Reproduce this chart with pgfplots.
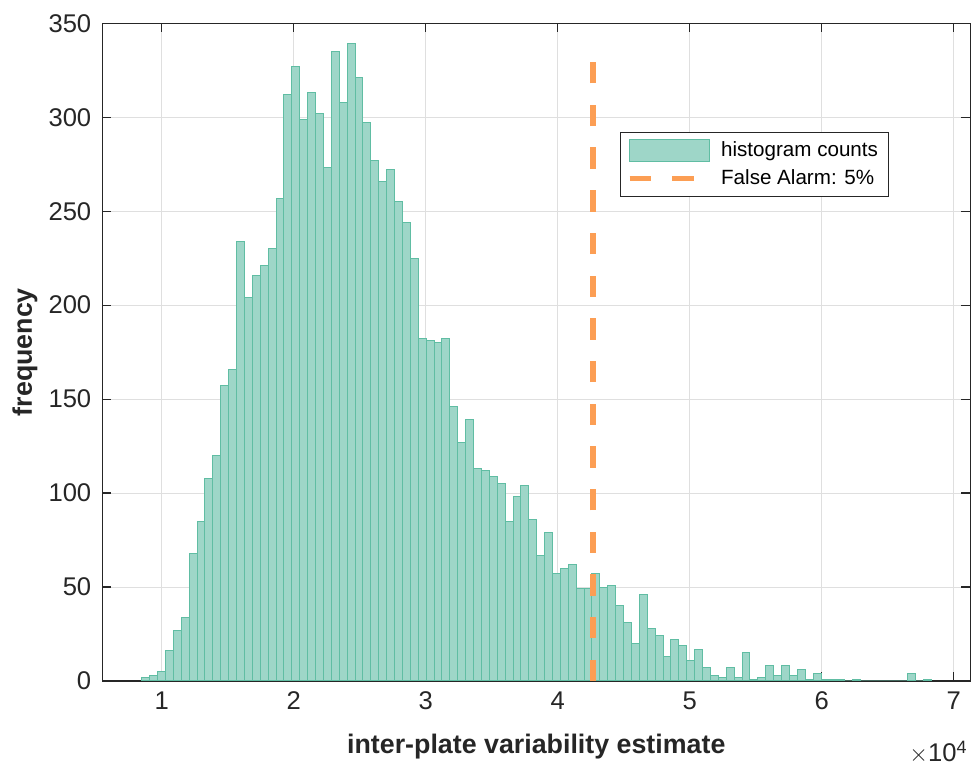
\documentclass[border=0pt]{standalone}
\usepackage{pgfplots}
\pgfplotsset{compat=1.18}
\usepackage{fontspec}
\setmainfont{Liberation Sans}
\definecolor{histfill}{RGB}{158,214,200}
\definecolor{histedge}{RGB}{96,189,163}
\definecolor{alarm}{RGB}{252,158,84}
\definecolor{axgray}{RGB}{38,38,38}
\definecolor{gridgray}{RGB}{223,223,223}
\begin{document}
\begin{tikzpicture}
\useasboundingbox (-51.15pt,-42.5pt) rectangle (434.35pt,340.5pt);
\begin{axis}[
  at={(0pt,0pt)}, anchor=south west,
  scale only axis, width=434pt, height=328.85pt,
  xmin=0.55, xmax=7.126, ymin=0, ymax=350,
  xtick={1,2,3,4,5,6,7}, ytick={0,50,100,150,200,250,300,350},
  grid=major, major grid style={gridgray, line width=0.5pt},
  axis line style={axgray, line width=0.6pt},
  tick style={axgray, line width=0.6pt},
  tick align=inside, major tick length=4.4pt,
  /pgf/number format/assume math mode=true,
  ticklabel style={font=\fontsize{12.8}{14}\selectfont, text=axgray},
  xticklabel style={yshift=-2pt},
  yticklabel style={xshift=-2pt},
  xlabel={inter-plate variability estimate},
  ylabel={frequency},
  xlabel style={at={(axis description cs:0.5,-0.1)}, anchor=center,
    font=\bfseries\fontsize{13.4}{15}\selectfont, text=axgray},
  ylabel style={at={(axis description cs:-0.089,0.5)}, anchor=center, rotate=0,
    font=\bfseries\fontsize{13.4}{15}\selectfont, text=axgray},
  legend style={at={(axis description cs:0.597,0.835)}, anchor=north west,
    draw=axgray, line width=0.5pt, fill=white,
    font=\fontsize{10.3}{12}\selectfont, inner xsep=3pt, inner ysep=2.5pt,
    row sep=1pt, column sep=3.5pt},
  legend cell align=left,
  clip=false,
]
\addplot[ybar interval, fill=histfill, draw=histedge, line width=0.5pt,
  legend image code/.code={\draw[fill=histfill, draw=histedge, line width=0.5pt] (0pt,-5.5pt) rectangle (40pt,5.5pt);}]
table[x=x, y=c] {
x c
0.8485 2
0.9084 3
0.9682 5
1.0281 16
1.0879 27
1.1478 34
1.2076 68
1.2675 85
1.3273 108
1.3872 120
1.4470 157
1.5069 166
1.5667 234
1.6266 204
1.6864 216
1.7463 221
1.8061 230
1.8660 257
1.9258 312
1.9857 327
2.0455 299
2.1054 313
2.1652 302
2.2251 273
2.2849 335
2.3448 308
2.4046 339
2.4645 321
2.5243 297
2.5842 277
2.6440 266
2.7039 272
2.7637 255
2.8236 244
2.8834 225
2.9433 182
3.0031 181
3.0630 180
3.1228 182
3.1827 146
3.2425 127
3.3024 139
3.3622 113
3.4221 112
3.4819 109
3.5418 105
3.6016 85
3.6615 98
3.7213 104
3.7812 86
3.8410 67
3.9009 79
3.9607 57
4.0206 60
4.0804 62
4.1403 49
4.2001 49
4.2600 57
4.3198 50
4.3797 51
4.4395 40
4.4994 31
4.5592 20
4.6191 46
4.6789 28
4.7388 24
4.7986 13
4.8585 22
4.9183 19
4.9782 11
5.0380 17
5.0979 7
5.1577 3
5.2176 2
5.2774 7
5.3373 2
5.3971 15
5.4570 1
5.5168 2
5.5767 8
5.6365 3
5.6964 8
5.7562 3
5.8161 6
5.8759 1
5.9358 4
5.9956 1
6.0555 1
6.1153 1
6.1752 0
6.2350 1
6.2949 0
6.3547 0
6.4146 0
6.4744 0
6.5343 0
6.5941 0
6.6540 4
6.7138 0
6.7737 1
6.8335 1
};
\addlegendentry{histogram counts}
\addplot[alarm, line width=2.65pt, dash pattern=on 10.67pt off 10.67pt,
  legend image code/.code={\draw[alarm, line width=2.65pt, dash pattern=on 10.67pt off 10.67pt] (0pt,0pt) -- (32pt,0pt);}]
coordinates {(4.267,0) (4.267,330)};
\addlegendentry{False Alarm: 5\%}
\node[anchor=base east, text=axgray, font=\fontsize{12.8}{14}\selectfont, inner sep=0pt]
  at (axis description cs:0.9973,-0.123) {$\times$10\textsuperscript{4}};
\end{axis}
\end{tikzpicture}
\end{document}
